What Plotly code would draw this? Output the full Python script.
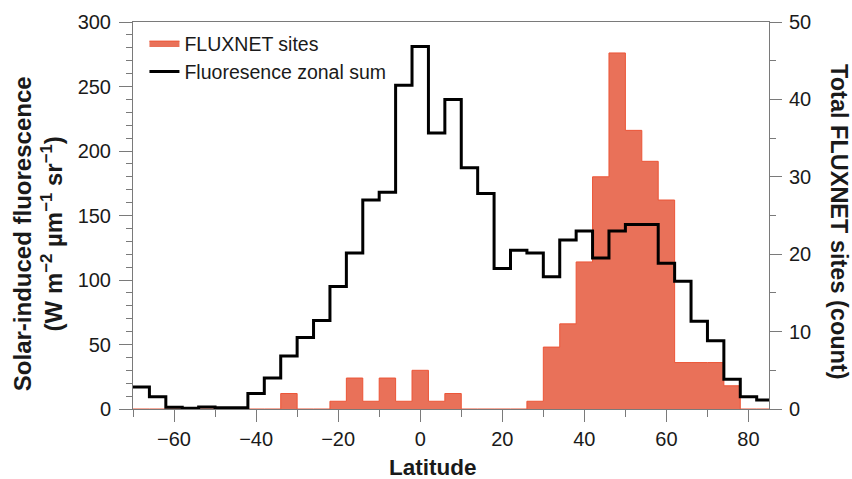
import plotly.graph_objects as go

# Left edges of 4-degree latitude bins
lat_left = [-70, -66, -62, -58, -54, -50, -46, -42, -38, -34, -30, -26, -22, -18,
            -14, -10, -6, -2, 2, 6, 10, 14, 18, 22, 26, 30, 34, 38, 42, 46, 50,
            54, 58, 62, 66, 70, 74, 78, 82]
lat_last_edge = 86

# Fluorescence zonal sum (W m-2 um-1 sr-1)
fluor = [17, 9.5, 1.3, 0.5, 1.5, 1, 1, 12, 24, 41, 55.5, 68.7, 95, 121,
         162, 168, 251, 281, 214, 240, 187, 167, 109, 123, 121, 102.5, 131, 138, 117, 138, 143,
         143, 113, 99, 68, 53, 23, 9.5, 7]

# FLUXNET sites per bin (count)
sites = [0, 0, 0, 0, 0, 0, 0, 0, 0, 2, 0, 0, 1, 4,
         1, 4, 1, 5, 1, 2, 0, 0, 0, 0, 1, 8, 11, 19, 30, 46, 36,
         32, 27, 6, 6, 6, 3, 0, 0]

x_step = lat_left + [lat_last_edge]
fluor_step = fluor + [fluor[-1]]
sites_step = sites + [sites[-1]]

FONT = "Liberation Sans, Arial, Helvetica, sans-serif"
AX = "#7a7a7a"

fig = go.Figure()
fig.add_trace(go.Scatter(
    x=x_step, y=sites_step, mode="lines", line_shape="hv",
    fill="tozeroy", fillcolor="rgb(233,113,89)",
    line=dict(color="rgb(236,85,55)", width=1),
    name="FLUXNET sites", yaxis="y"))
fig.add_trace(go.Scatter(
    x=x_step, y=fluor_step, mode="lines", line_shape="hv",
    line=dict(color="black", width=3),
    name="Fluoresence zonal sum", yaxis="y2"))

fig.update_layout(
    width=852, height=479,
    margin=dict(l=133, r=83, t=22, b=70),
    paper_bgcolor="white", plot_bgcolor="white",
    font=dict(family=FONT, size=20, color="#1a1a1a"),
    showlegend=True,
    legend=dict(x=0.018, y=0.995, xanchor="left", yanchor="top",
                bgcolor="rgba(0,0,0,0)", font=dict(size=19.5),
                tracegroupgap=0, itemwidth=30),
    xaxis=dict(range=[-70, 85], tickvals=[-60, -40, -20, 0, 20, 40, 60, 80],
               ticktext=["\u221260", "\u221240", "\u221220", "0", "20", "40", "60", "80"],
               ticks="outside", ticklen=12, tickcolor=AX, tickwidth=1,
               minor=dict(ticks="outside", ticklen=7, dtick=10, tick0=0, tickcolor=AX),
               showline=True, linecolor=AX, linewidth=1, mirror=True,
               showgrid=False, zeroline=False),
    yaxis=dict(range=[0, 50], side="right", tickvals=[0, 10, 20, 30, 40, 50],
               ticks="outside", ticklen=12, tickcolor=AX, ticklabelstandoff=3,
               minor=dict(ticks="outside", ticklen=6, dtick=5, tickcolor=AX),
               showline=True, linecolor=AX, linewidth=1,
               showgrid=False, zeroline=False),
    yaxis2=dict(range=[0, 300], side="left", overlaying="y",
                tickvals=[0, 50, 100, 150, 200, 250, 300],
                ticks="outside", ticklen=13, tickcolor=AX, ticklabelstandoff=4,
                minor=dict(ticks="outside", ticklen=6, dtick=10, tickcolor=AX),
                showline=True, linecolor=AX, linewidth=1,
                showgrid=False, zeroline=False),
)

fig.add_annotation(text="<b>Latitude</b>", xref="paper", yref="paper",
                   x=0.471, y=-0.152, xanchor="center", yanchor="middle",
                   showarrow=False, font=dict(size=22.5))
fig.add_annotation(text="<b>Solar-induced fluorescence<br>(W m<sup>\u22122</sup> \u00b5m<sup>\u22121</sup> sr<sup>\u22121</sup>)</b>",
                   xref="paper", yref="paper", x=-0.1496, y=0.454,
                   xanchor="center", yanchor="middle", textangle=-90,
                   showarrow=False, font=dict(size=24))
fig.add_annotation(text="<b>Total FLUXNET sites (count)</b>",
                   xref="paper", yref="paper", x=1.110, y=0.483,
                   xanchor="center", yanchor="middle", textangle=90,
                   showarrow=False, font=dict(size=23.5))

fig.write_html("out.html")
